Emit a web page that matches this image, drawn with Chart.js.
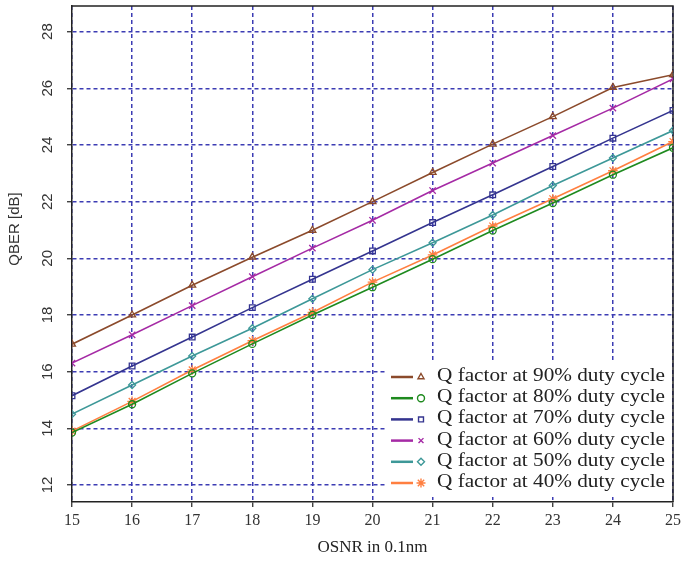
<!DOCTYPE html>
<html>
<head>
<meta charset="utf-8">
<script src="https://cdn.jsdelivr.net/npm/chart.js@4.4.1/dist/chart.umd.min.js"></script>
<style>
  html, body { margin: 0; padding: 0; background: #fff; }
  #wrap { width: 685px; height: 564px; }
</style>
</head>
<body>
<div id="wrap"><canvas id="qChart" width="685" height="564"></canvas></div>
<script>
// OSNR (x) values and Q factor series per duty cycle
const osnr = [15, 16, 17, 18, 19, 20, 21, 22, 23, 24, 25];
const q90 = [16.97, 18.0, 19.05, 20.04, 20.99, 22.0, 23.03, 24.03, 25.0, 26.03, 26.48];
const q80 = [13.85, 14.85, 15.94, 16.98, 18.0, 18.98, 19.97, 20.98, 21.95, 22.95, 23.9];
const q70 = [15.15, 16.2, 17.22, 18.26, 19.26, 20.26, 21.26, 22.24, 23.24, 24.24, 25.22];
const q60 = [16.3, 17.3, 18.33, 19.35, 20.36, 21.34, 22.39, 23.36, 24.33, 25.3, 26.33];
const q50 = [14.5, 15.53, 16.55, 17.53, 18.57, 19.6, 20.55, 21.53, 22.57, 23.54, 24.51];
const q40 = [13.9, 14.95, 16.06, 17.09, 18.09, 19.16, 20.12, 21.14, 22.1, 23.09, 24.12];
const seriesLabels = [
  'Q factor at 90% duty cycle',
  'Q factor at 80% duty cycle',
  'Q factor at 70% duty cycle',
  'Q factor at 60% duty cycle',
  'Q factor at 50% duty cycle',
  'Q factor at 40% duty cycle',
];
const yTicks = [12, 14, 16, 18, 20, 22, 24, 26, 28];

const seriesValues = [q90, q80, q70, q60, q50, q40];
const seriesColors = ['#8b4a2b', '#1e8a1e', '#34348f', '#a52aa5', '#3d9898', '#ff7f40'];
const seriesMarkers = ['triangle', 'circle', 'rect', 'crossRot', 'rectRot', 'star'];
const markerRadius = [4, 3.5, 4, 4.5, 3.5, 4.8];

const gridColor = '#3c3cb4';

const datasets = seriesValues.map((values, i) => ({
  label: seriesLabels[i],
  data: values.map((v, j) => ({ x: osnr[j], y: v })),
  borderColor: seriesColors[i],
  backgroundColor: 'rgba(0,0,0,0)',
  borderWidth: 1.6,
  pointStyle: seriesMarkers[i],
  pointRadius: markerRadius[i],
  pointBorderWidth: 1.3,
  pointBorderColor: seriesColors[i],
  pointBackgroundColor: 'rgba(0,0,0,0)',
  tension: 0,
}));

// top/right frame of the plot area
const framePlugin = {
  id: 'frame',
  beforeDatasetsDraw(chart) {
    const { ctx, chartArea: a } = chart;
    ctx.save();
    ctx.strokeStyle = '#222';
    ctx.lineWidth = 1.5;
    ctx.beginPath();
    ctx.moveTo(a.left, a.top);
    ctx.lineTo(a.right, a.top);
    ctx.lineTo(a.right, a.bottom);
    ctx.stroke();
    ctx.restore();
  },
};

// rotated y tick labels and y axis title
const yLabelsPlugin = {
  id: 'yLabels',
  afterDraw(chart) {
    const { ctx } = chart;
    const scale = chart.scales.y;
    ctx.save();
    ctx.fillStyle = '#333';
    ctx.textAlign = 'center';
    ctx.textBaseline = 'middle';
    ctx.font = '15px "Liberation Sans", Arial, sans-serif';
    scale.ticks.forEach((t) => {
      const y = scale.getPixelForValue(t.value);
      ctx.save();
      ctx.translate(48, y);
      ctx.rotate(-Math.PI / 2);
      ctx.fillText(String(t.value), 0, 0);
      ctx.restore();
    });
    ctx.translate(15, 229);
    ctx.rotate(-Math.PI / 2);
    ctx.fillText('QBER [dB]', 0, 0);
    ctx.restore();
  },
};

// legend box in the lower right corner of the plot
const boxLegendPlugin = {
  id: 'boxLegend',
  afterDatasetsDraw(chart) {
    const { ctx, chartArea: a } = chart;
    const left = 387;
    const top = 363;
    const bottom = 497;
    ctx.save();
    ctx.fillStyle = '#fff';
    ctx.fillRect(left, top, a.right - left - 1, bottom - top);
    ctx.font = '19px "Liberation Serif", "Times New Roman", serif';
    ctx.textBaseline = 'middle';
    ctx.textAlign = 'left';
    chart.data.datasets.forEach((ds, i) => {
      const y = 376 + i * 21.2;
      ctx.strokeStyle = ds.borderColor;
      ctx.lineWidth = 2.5;
      ctx.beginPath();
      ctx.moveTo(391, y + 1);
      ctx.lineTo(413, y + 1);
      ctx.stroke();
      ctx.lineWidth = 1.4;
      ctx.fillStyle = 'rgba(0,0,0,0)';
      Chart.helpers.drawPoint(ctx, {
        pointStyle: ds.pointStyle,
        radius: ds.pointStyle === 'star' ? 4.5 : 3.5,
        borderWidth: 1.4,
        rotation: 0,
      }, 421, y + 1);
      ctx.fillStyle = '#222';
      const w = ctx.measureText(ds.label).width;
      ctx.save();
      ctx.translate(437, y);
      ctx.scale(228 / w, 1);
      ctx.fillText(ds.label, 0, 0);
      ctx.restore();
    });
    ctx.restore();
  },
};

new Chart(document.getElementById('qChart'), {
  type: 'line',
  data: { datasets },
  plugins: [framePlugin, yLabelsPlugin, boxLegendPlugin],
  options: {
    responsive: false,
    animation: false,
    layout: { padding: { top: 6, right: 5, left: 0, bottom: 0 } },
    plugins: {
      legend: { display: false },
      tooltip: { enabled: false },
    },
    scales: {
      x: {
        type: 'linear',
        min: 15,
        max: 25,
        afterFit: (scale) => { scale.height = 62; },
        ticks: {
          stepSize: 1,
          color: '#333',
          padding: 4,
          font: { family: '"Liberation Serif", "Times New Roman", serif', size: 16 },
        },
        grid: {
          color: gridColor,
          lineWidth: 1.5,
          tickLength: 5,
          tickColor: '#222',
          tickWidth: 1.2,
        },
        // dash applies to the grid lines, the axis line stays solid
        border: { color: '#222', width: 1.5, dash: [4, 3] },
        title: {
          display: true,
          text: 'OSNR in 0.1nm',
          color: '#222',
          font: { family: '"Liberation Serif", "Times New Roman", serif', size: 17 },
          padding: { top: 2, bottom: 6 },
        },
      },
      y: {
        min: 11.4,
        max: 28.9,
        afterFit: (scale) => { scale.width = 72; },
        afterBuildTicks: (scale) => { scale.ticks = yTicks.map((v) => ({ value: v })); },
        ticks: { display: false },
        grid: {
          color: gridColor,
          lineWidth: 1.5,
          tickLength: 5,
          tickColor: '#222',
          tickWidth: 1.2,
        },
        border: { color: '#222', width: 1.5, dash: [4, 3] },
      },
    },
  },
});
</script>
</body>
</html>
